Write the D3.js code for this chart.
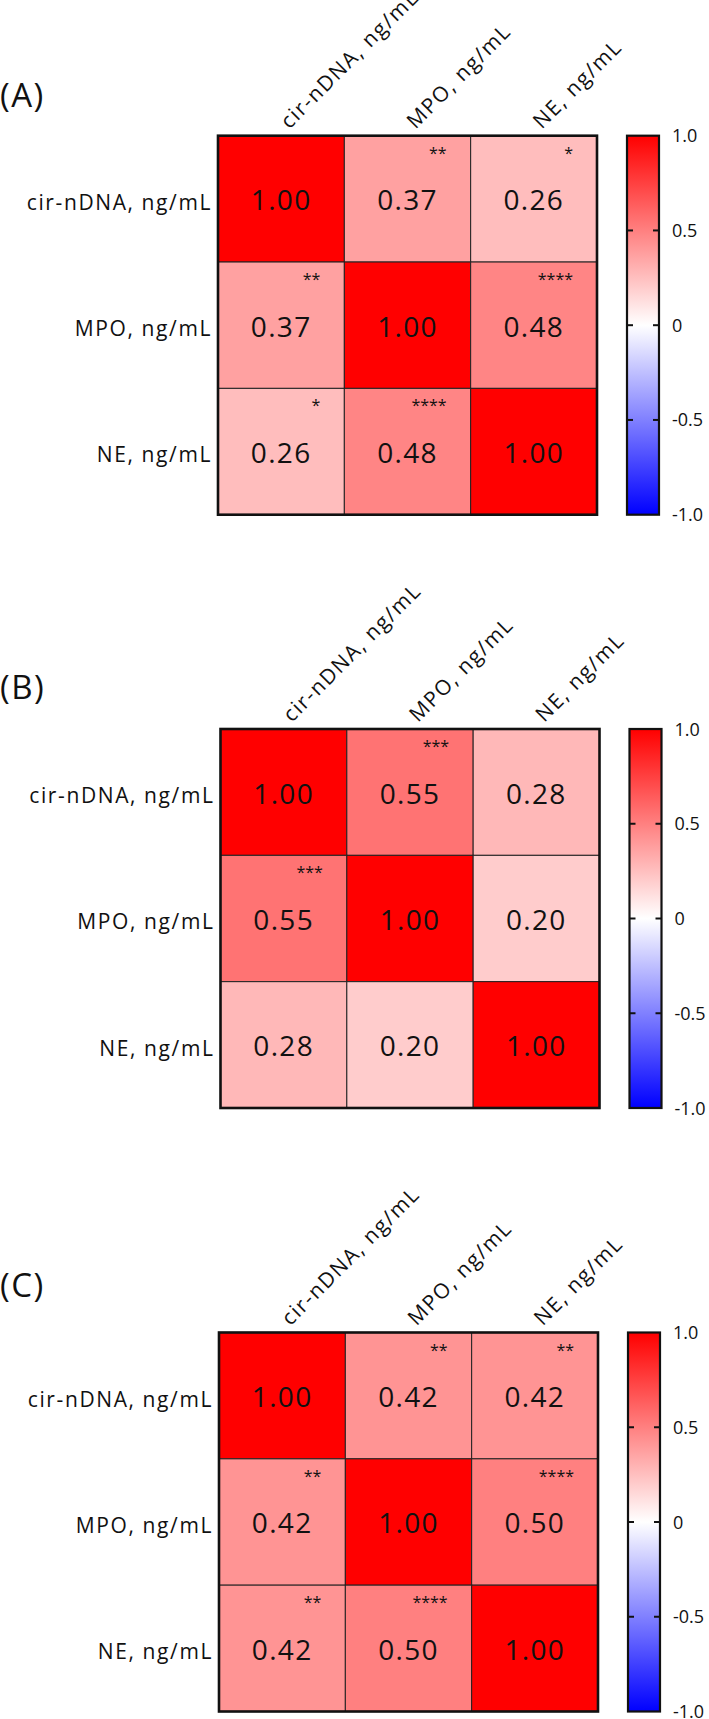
<!DOCTYPE html>
<html>
<head>
<meta charset="utf-8">
<script src="https://cdn.jsdelivr.net/npm/d3@7"></script>
<style>
  body { margin: 0; background: #fff; }
  text { font-family: "Open Sans", sans-serif; fill: #111; }
</style>
</head>
<body>
<svg id="chart" width="709" height="1719"></svg>
<script>
const variables = ["cir-nDNA, ng/mL", "MPO, ng/mL", "NE, ng/mL"];
const panelNames = ["(A)", "(B)", "(C)"];

// correlation values, row by row
const corrA = [[1.00, 0.37, 0.26], [0.37, 1.00, 0.48], [0.26, 0.48, 1.00]];
const corrB = [[1.00, 0.55, 0.28], [0.55, 1.00, 0.20], [0.28, 0.20, 1.00]];
const corrC = [[1.00, 0.42, 0.42], [0.42, 1.00, 0.50], [0.42, 0.50, 1.00]];

// significance marks
const starsA = [["", "**", "*"], ["**", "", "****"], ["*", "****", ""]];
const starsB = [["", "***", ""], ["***", "", ""], ["", "", ""]];
const starsC = [["", "**", "**"], ["**", "", "****"], ["**", "****", ""]];

const barTicks = [-1, -0.5, 0, 0.5, 1];
const barTickLabels = ["-1.0", "-0.5", "0", "0.5", "1.0"];

const svg = d3.select("#chart");
svg.append("rect").attr("width", 709).attr("height", 1719).attr("fill", "#fff");

const color = d3.scaleLinear()
  .domain([-1, 0, 1])
  .range(["#0000ff", "#ffffff", "#ff0000"]);

// layout of each panel (grid origin, label baseline)
const layout = [
  { left: 218, top: 135.7, labelY: 107 },
  { left: 220.5, top: 729, labelY: 699 },
  { left: 219, top: 1332.5, labelY: 1297 }
];
const size = 379;

// gradient for the colour bars
const grad = svg.append("defs").append("linearGradient")
  .attr("id", "bar-grad")
  .attr("x1", 0).attr("y1", 1).attr("x2", 0).attr("y2", 0);
d3.range(-1, 1.001, 0.25).forEach(v => {
  grad.append("stop")
    .attr("offset", ((v + 1) / 2 * 100) + "%")
    .attr("stop-color", color(v));
});

function heatmap(corr, stars, name, lay) {
  const g = svg.append("g").attr("transform", "translate(" + lay.left + "," + lay.top + ")");

  const x = d3.scaleBand().domain(d3.range(3)).range([0, size]);
  const y = d3.scaleBand().domain(d3.range(3)).range([0, size]);

  const cells = [];
  corr.forEach((row, i) => row.forEach((v, j) => cells.push({ i, j, v, s: stars[i][j] })));

  g.selectAll("rect.cell")
    .data(cells)
    .join("rect")
      .attr("class", "cell")
      .attr("x", d => x(d.j))
      .attr("y", d => y(d.i))
      .attr("width", x.bandwidth())
      .attr("height", y.bandwidth())
      .attr("fill", d => color(d.v))
      .attr("stroke", "#222")
      .attr("stroke-width", 1);

  g.selectAll("text.val")
    .data(cells)
    .join("text")
      .attr("class", "val")
      .attr("x", d => x(d.j) + x.bandwidth() / 2)
      .attr("y", d => y(d.i) + 74.5)
      .attr("text-anchor", "middle")
      .attr("font-size", 28)
      .attr("letter-spacing", 1.3)
      .text(d => d.v.toFixed(2));

  g.selectAll("text.star")
    .data(cells.filter(d => d.s))
    .join("text")
      .attr("class", "star")
      .attr("x", d => x(d.j) + x.bandwidth() - 24)
      .attr("y", d => y(d.i) + 23)
      .attr("text-anchor", "end")
      .attr("font-size", 16)
      .text(d => d.s);

  // outer frame
  g.append("rect")
    .attr("width", size).attr("height", size)
    .attr("fill", "none").attr("stroke", "#111").attr("stroke-width", 2.6);

  // row labels
  g.selectAll("text.row")
    .data(variables)
    .join("text")
      .attr("class", "row")
      .attr("x", -6)
      .attr("y", (d, i) => y(i) + 74)
      .attr("text-anchor", "end")
      .attr("font-size", 21)
      .attr("letter-spacing", 1.6)
      .text(d => d);

  // column labels
  g.selectAll("text.col")
    .data(variables)
    .join("text")
      .attr("class", "col")
      .attr("transform", (d, i) => "translate(" + (x(i) + x.bandwidth() / 2 + 8) + ",-6) rotate(-45)")
      .attr("font-size", 21)
      .attr("letter-spacing", 1.6)
      .text(d => d);

  // panel letter
  svg.append("text")
    .attr("x", 0)
    .attr("y", lay.labelY)
    .attr("font-size", 33)
    .attr("letter-spacing", 1.5)
    .text(name);

  // colour bar
  const bx = size + 30, bw = 32;
  const bar = d3.scaleLinear().domain([-1, 1]).range([size, 0]);
  g.append("rect")
    .attr("x", bx).attr("y", 0)
    .attr("width", bw).attr("height", size)
    .attr("fill", "url(#bar-grad)")
    .attr("stroke", "#111").attr("stroke-width", 2.2);

  const inner = barTicks.filter(t => Math.abs(t) < 1);
  g.selectAll("line.tl")
    .data(inner)
    .join("line")
      .attr("x1", bx).attr("x2", bx + 6)
      .attr("y1", d => bar(d)).attr("y2", d => bar(d))
      .attr("stroke", "#111").attr("stroke-width", 2);
  g.selectAll("line.tr")
    .data(inner)
    .join("line")
      .attr("x1", bx + bw - 6).attr("x2", bx + bw)
      .attr("y1", d => bar(d)).attr("y2", d => bar(d))
      .attr("stroke", "#111").attr("stroke-width", 2);

  g.selectAll("text.bl")
    .data(barTicks)
    .join("text")
      .attr("class", "bl")
      .attr("x", bx + bw + 13)
      .attr("y", d => bar(d) + 6.5)
      .attr("font-size", 18)
      .text((d, i) => barTickLabels[i]);
}

heatmap(corrA, starsA, panelNames[0], layout[0]);
heatmap(corrB, starsB, panelNames[1], layout[1]);
heatmap(corrC, starsC, panelNames[2], layout[2]);
</script>
</body>
</html>
